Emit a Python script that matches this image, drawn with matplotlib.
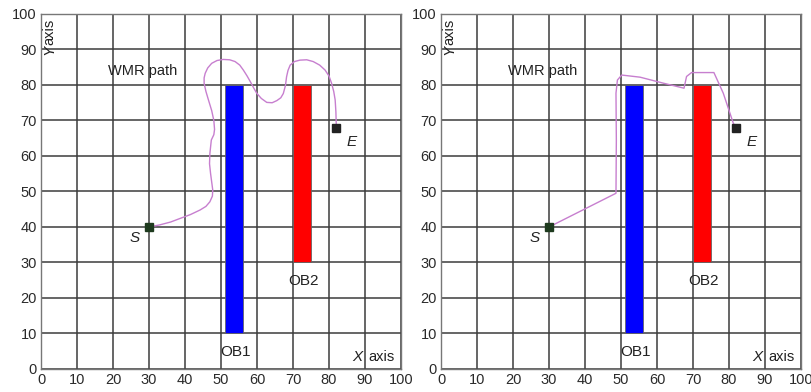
import numpy as np
import matplotlib.pyplot as plt
from matplotlib.patches import Rectangle

plt.rcParams['font.family'] = ['Liberation Sans', 'DejaVu Sans']

# obstacles: (name, x0, x1, y0, y1, colour)
obstacles = [
    ('OB1', 51, 56, 10, 80, '#0000ff'),
    ('OB2', 70, 75, 30, 80, '#ff0000'),
]
start = (30, 40)
end = (82, 68)

# path
path1_x = [30, 33, 36, 38.6, 41.5, 44.2, 45.8, 46.9, 47.6, 47.7, 47.4, 47.1, 46.8, 46.9,
           47.3, 48.0, 48.2, 48.0, 47.4, 46.5, 45.8, 45.3, 45.3, 45.6, 46.3, 47.4, 48.9,
           50.6, 52.4, 53.9, 55.2, 56.2, 57.2, 58.1, 59.0, 59.9, 61.2, 62.7, 64.2, 65.5,
           66.6, 67.3, 67.9, 68.2, 68.6, 69.2, 70.4, 71.9, 73.8, 75.6, 77.4, 78.9, 80.0,
           80.7, 81.3, 81.7, 81.9, 82.0]
path1_y = [40, 40.6, 41.4, 42.4, 43.5, 44.8, 45.8, 47.1, 48.7, 50.4, 52.7, 55.0, 57.8, 60.7,
           64.5, 66.0, 67.5, 70.0, 72.8, 75.8, 78.2, 80.5, 82.0, 83.3, 84.8, 86.1, 86.9,
           87.2, 87.1, 86.6, 85.6, 84.2, 82.6, 81.0, 79.3, 77.7, 76.2, 75.1, 75.0, 75.6,
           76.4, 77.6, 79.9, 82.3, 84.1, 85.6, 86.6, 87.0, 87.1, 86.6, 85.6, 84.2, 82.5,
           80.5, 78.2, 75.8, 72.5, 69.2]

# path
path2_x = [30, 48.6, 48.7, 48.6, 49.0, 50.2, 55.3, 61.8, 67.5, 68.2, 69.6, 75.8, 78.4, 81.2, 82.0]
path2_y = [40, 49.5, 64.5, 77.7, 81.4, 82.8, 82.2, 80.5, 79.1, 82.4, 83.5, 83.5, 77.7, 69.2, 68.0]

ticks = np.arange(0, 101, 10)

fig = plt.figure(figsize=(8.11, 3.92), dpi=100)
ax1 = fig.add_axes([0.0506, 0.0587, 0.4439, 0.9056])
ax2 = fig.add_axes([0.5438, 0.0587, 0.4439, 0.9056])


def draw_panel(ax, px, py):
    ax.set_xlim(0, 100)
    ax.set_ylim(0, 100)
    ax.set_xticks(ticks)
    ax.set_yticks(ticks)
    ax.tick_params(length=0, labelsize=10.5, colors='#2a2a2a', pad=3)
    ax.grid(True, color='#3c3c3c', linewidth=1.1)
    ax.set_axisbelow(True)
    for s in ax.spines.values():
        s.set_color('#777777')
        s.set_linewidth(1.0)

    for name, x0, x1, y0, y1, c in obstacles:
        ax.add_patch(Rectangle((x0, y0), x1 - x0, y1 - y0, facecolor=c,
                               edgecolor='#666666', linewidth=0.6, zorder=3))
        ax.text((x0 + x1) / 2 + 0.5, y0 - 3.3, name, ha='center', va='top',
                fontsize=11, color='#222222')

    ax.plot(px, py, color='#c77fcf', linewidth=1.0, zorder=4,
            solid_joinstyle='round')

    ax.plot(*start, marker='s', markersize=6, color='#1e3a1e', zorder=5)
    ax.plot(*end, marker='s', markersize=6, color='#222222', zorder=5)
    ax.text(start[0] - 4, start[1] - 3, 'S', style='italic', fontsize=11,
            ha='center', va='center', color='#222222')
    ax.text(end[0] + 4.3, end[1] - 4, 'E', style='italic', fontsize=11,
            ha='center', va='center', color='#222222')

    ax.text(18.5, 84, 'WMR path', fontsize=10.5, ha='left', va='center', color='#222222')
    ax.text(88, 3.5, 'X', style='italic', fontsize=11, ha='center', va='center',
            color='#222222')
    ax.text(94.5, 3.5, 'axis', fontsize=10.5, ha='center', va='center', color='#222222')
    ax.text(2.3, 88.5, 'Y', style='italic', fontsize=11, rotation=90,
            ha='center', va='bottom', color='#222222')
    ax.text(2.3, 98.8, 'axis', fontsize=10.5, rotation=90, ha='center', va='top',
            color='#222222')


draw_panel(ax1, path1_x, path1_y)
draw_panel(ax2, path2_x, path2_y)

plt.savefig('out.png', dpi=100)
plt.close()
